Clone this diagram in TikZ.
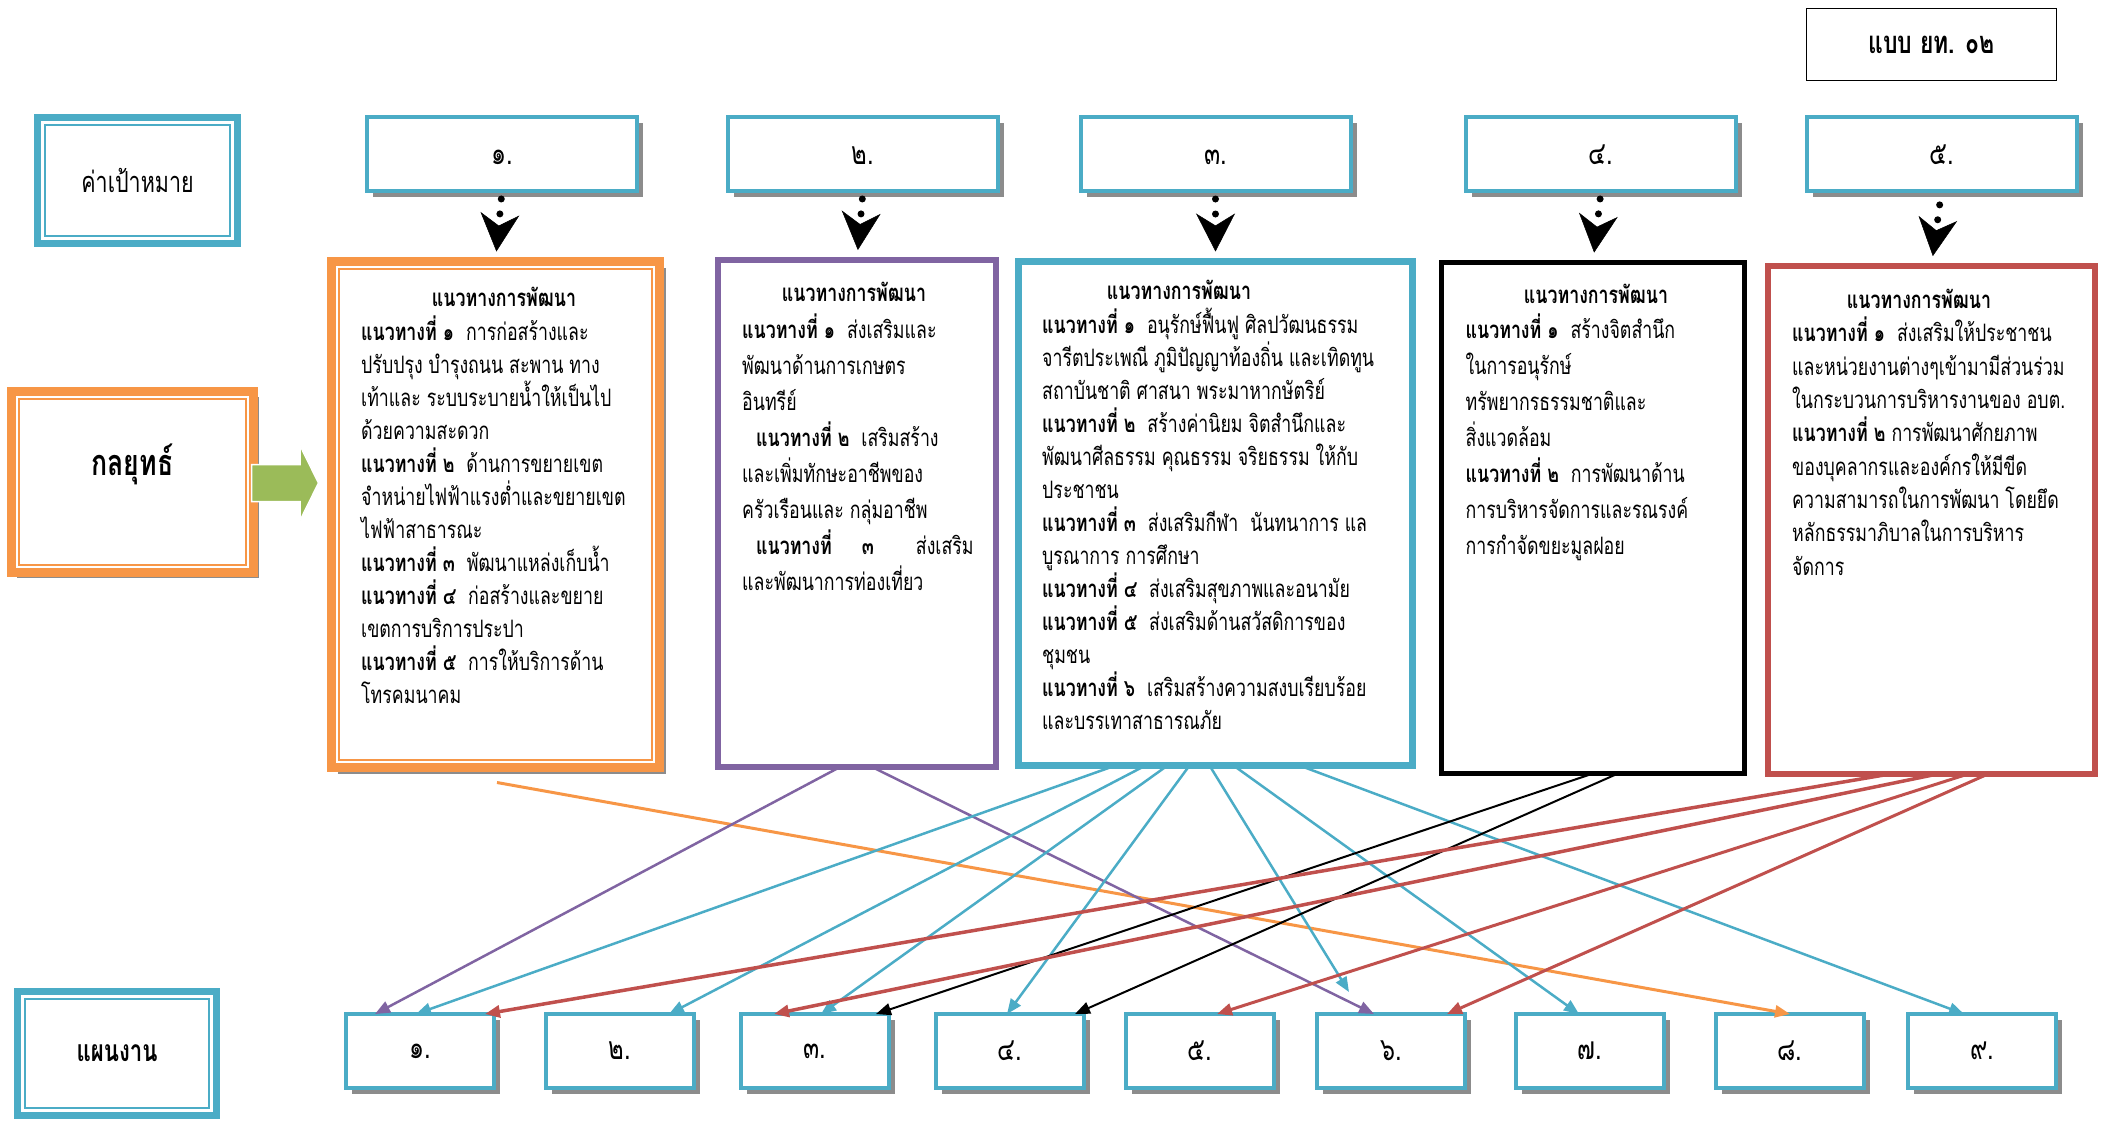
\documentclass[tikz,border=0pt]{standalone}
\usepackage{fontspec}
\setmainfont[Script=Thai,FakeStretch=0.74]{Loma}
\usetikzlibrary{positioning,calc,shadows,arrows.meta}

\definecolor{sky}{RGB}{75,172,198}
\definecolor{amber}{RGB}{247,150,70}
\definecolor{plum}{RGB}{128,100,162}
\definecolor{brick}{RGB}{192,80,77}
\definecolor{leaf}{RGB}{155,187,89}

\newcommand{\nw}[1]{\textbf{แนวทางที่ #1}}
\newcommand{\tightskip}{\lineskiplimit-50pt\relax}

\tikzset{
  box/.style={fill=white,inner sep=0pt,outer sep=0pt},
  shade/.style={drop shadow={shadow xshift=#1,shadow yshift=-#1,fill=black!45,opacity=1}},
  goal/.style={box,draw=sky,line width=4pt,minimum width=270pt,minimum height=74pt,shade=6pt,font=\fontsize{32}{36}\selectfont},
  plan/.style={goal,minimum width=148pt},
  title/.style={anchor=base,inner sep=0pt,font=\fontsize{24}{30}\bfseries\selectfont},
  % anchored at the baseline of the last line
  body/.style={anchor=base west,align=left,inner sep=0pt,font=\fontsize{24}{#1}\selectfont\tightskip},
  dots/.style={line width=7pt,line cap=round,dash pattern=on 0pt off 15pt,shorten <=#1,shorten >=10pt,
    -{Stealth[length=38pt,width=39pt,inset=12pt,line width=0.5pt]}},
  dots/.default=8pt,
  tie/.style={draw=#1,line width=2.5pt,-{Triangle[length=15pt,width=12pt]}}
}

\begin{document}
\begin{tikzpicture}[x=1pt,y=-1pt]
\useasboundingbox (0,0) rectangle (2105,1120);

% left headings
\node[box,draw=sky,line width=7pt,minimum width=200pt,minimum height=126pt,font=\fontsize{29}{32}\selectfont] (lbl1) at (137.5,180.5) {ค่าเป้าหมาย};
\node[box,draw=amber,line width=9pt,minimum width=242pt,minimum height=181pt,shade=5pt,font=\fontsize{36}{40}\bfseries\selectfont] (lbl2) at (132.5,482) {\raisebox{44pt}{กลยุทธ์}};
\node[box,draw=sky,line width=7pt,minimum width=199pt,minimum height=124pt,font=\fontsize{30}{34}\bfseries\selectfont] (lbl3) at (117,1053.5) {\raisebox{-3pt}{แผนงาน}};

\node[box,draw,line width=1.5pt,minimum width=250pt,minimum height=72pt,font=\fontsize{31}{34}\bfseries\selectfont] (hdr) at (1931.5,44.5) {แบบ ยท. ๐๒};

\foreach \i/\x/\d in {1/502/๑,2/863/๒,3/1215.5/๓,4/1601/๔,5/1941.5/๕}
  \node[goal] (t\i) at (\x,154) {\raisebox{-10pt}[0pt][0pt]{\d.}};

\foreach \i/\x/\d in {1/420/๑,2/619.5/๒,3/814.5/๓,4/1009.5/๔,5/1200/๕,6/1391/๖,7/1590/๗,8/1790/๘,9/1982/๙}
  \node[plan] (p\i) at (\x,1051) {\d.};

% strategy boxes
\node[box,draw=amber,line width=9pt,minimum width=328pt,minimum height=506pt,shade=6pt] (s1) at (495.5,514.5) {};
\node[box,draw=plum,line width=6pt,minimum width=278pt,minimum height=507pt] (s2) at (857,513.5) {};
\node[box,draw=sky,line width=7pt,minimum width=394pt,minimum height=504pt] (s3) at (1215.5,513.5) {};
\node[box,draw=black,line width=5pt,minimum width=303pt,minimum height=511pt] (s4) at (1593,518) {};
\node[box,draw=brick,line width=6pt,minimum width=327pt,minimum height=508pt] (s5) at (1931.5,520) {};

\foreach \n/\c in {lbl1/sky,lbl2/amber,lbl3/sky,s1/amber}
  \draw[\c,line width=2pt] ($(\n.north west)+(7.5,7.5)$) rectangle ($(\n.south east)+(-7.5,-7.5)$);

\fill[leaf,draw=white,line width=1.5pt] ($(lbl2.east)+(-2,-17.5)$) -- ++(48.5,0) -- ++(0,-19)
  -- ++(18.5,37.5) -- ++(-18.5,37.5) -- ++(0,-19) -- ++(-48.5,0) -- cycle;

\foreach \i/\x/\y in {1/504/306,2/854/301,3/1179/299,4/1596/303,5/1919/308}
  \node[title] (h\i) at (\x,\y) {แนวทางการพัฒนา};

\node[body=33] (b1) at (361,703) {\nw{๑}\ \ การก่อสร้างและ\\ปรับปรุง บำรุงถนน สะพาน ทาง\\เท้าและ ระบบระบายน้ำให้เป็นไป\\ด้วยความสะดวก\\
  \nw{๒}\ \ ด้านการขยายเขต\\จำหน่ายไฟฟ้าแรงต่ำและขยายเขต\\ไฟฟ้าสาธารณะ\\\nw{๓}\ \ พัฒนาแหล่งเก็บน้ำ\\
  \nw{๔}\ \ ก่อสร้างและขยาย\\เขตการบริการประปา\\\nw{๕}\ \ การให้บริการด้าน\\โทรคมนาคม};
\node[body=36] (b2) at (742,590) {\nw{๑}\ \ ส่งเสริมและ\\พัฒนาด้านการเกษตร\\อินทรีย์\\\hspace*{14pt}\nw{๒}\ \ เสริมสร้าง\\
  และเพิ่มทักษะอาชีพของ\\ครัวเรือนและ กลุ่มอาชีพ\\\hspace*{14pt}\textbf{แนวทางที่}\hspace{30pt}\textbf{๓}\hspace{42pt}ส่งเสริม\\และพัฒนาการท่องเที่ยว};
\node[body=33] (b3) at (1042,729) {\nw{๑}\ \ อนุรักษ์ฟื้นฟู ศิลปวัฒนธรรม\\จารีตประเพณี ภูมิปัญญาท้องถิ่น และเทิดทูน\\สถาบันชาติ ศาสนา พระมาหากษัตริย์\\
  \nw{๒}\ \ สร้างค่านิยม จิตสำนึกและ\\พัฒนาศีลธรรม คุณธรรม จริยธรรม ให้กับ\\ประชาชน\\
  \nw{๓}\ \ ส่งเสริมกีฬา\ \ นันทนาการ แล\\บูรณาการ การศึกษา\\\nw{๔}\ \ ส่งเสริมสุขภาพและอนามัย\\
  \nw{๕}\ \ ส่งเสริมด้านสวัสดิการของ\\ชุมชน\\\nw{๖}\ \ เสริมสร้างความสงบเรียบร้อย\\และบรรเทาสาธารณภัย};
\node[body=36] (b4) at (1465.5,554) {\nw{๑}\ \ สร้างจิตสำนึก\\ในการอนุรักษ์\\ทรัพยากรธรรมชาติและ\\สิ่งแวดล้อม\\
  \nw{๒}\ \ การพัฒนาด้าน\\การบริหารจัดการและรณรงค์\\การกำจัดขยะมูลฝอย};
\node[body=33.3] (b5) at (1792,575) {\nw{๑}\ \ ส่งเสริมให้ประชาชน\\และหน่วยงานต่างๆเข้ามามีส่วนร่วม\\ในกระบวนการบริหารงานของ อบต.\\
  \nw{๒} การพัฒนาศักยภาพ\\ของบุคลากรและองค์กรให้มีขีด\\ความสามารถในการพัฒนา โดยยึด\\หลักธรรมาภิบาลในการบริหาร\\จัดการ};

% goal -> strategy
\foreach \i in {1,...,4}
  \draw[dots] (t\i.south) -- (s\i.north);
\draw[dots=14pt] (t5.south) -- (s5.north);

% strategy -> plan
\draw[tie=amber,line width=3pt] ($(s1.south)+(1.5,15)$) -- (p8.north);
\draw[tie=plum] ($(s2.south)+(-17,0)$) -- ($(p1.north)+(-45,0)$);
\draw[tie=plum] ($(s2.south)+(15,0)$) -- ($(p6.north)+(-17,0)$);
\draw[tie=sky] ($(s3.south)+(-100,0)$) -- ($(p1.north)+(-4,0)$);
\draw[tie=sky] ($(s3.south)+(-70,0)$) -- ($(p2.north)+(49.5,0)$);
\draw[tie=sky] ($(s3.south)+(-48,0)$) -- ($(p3.north)+(6.5,0)$);
\draw[tie=sky] ($(s3.south)+(-26,0)$) -- ($(p4.north)+(-2.5,0)$);
\draw[tie=sky] ($(s3.south)+(-6,0)$) -- ($(p6.north)+(-42,-22)$);
\draw[tie=sky] ($(s3.south)+(18,0)$) -- ($(p7.north)+(-11,0)$);
\draw[tie=sky] ($(s3.south)+(84,0)$) -- ($(p9.north)+(-18,0)$);
\draw[tie=black,line width=2pt] ($(s4.south)+(0,0)$) -- ($(p3.north)+(61.5,0)$);
\draw[tie=black,line width=2pt] ($(s4.south)+(25,0)$) -- ($(p4.north)+(65.5,0)$);
\draw[tie=brick,line width=3.5pt] ($(s5.south)+(-41.5,0)$) -- ($(p1.north)+(65,0)$);
\draw[tie=brick,line width=3.5pt] ($(s5.south)+(6,0)$) -- ($(p3.north)+(-40.5,0)$);
\draw[tie=brick,line width=3pt] ($(s5.south)+(36.5,0)$) -- ($(p5.north)+(17,0)$);
\draw[tie=brick,line width=3pt] ($(s5.south)+(56.5,0)$) -- ($(p6.north)+(56,0)$);
\end{tikzpicture}
\end{document}
